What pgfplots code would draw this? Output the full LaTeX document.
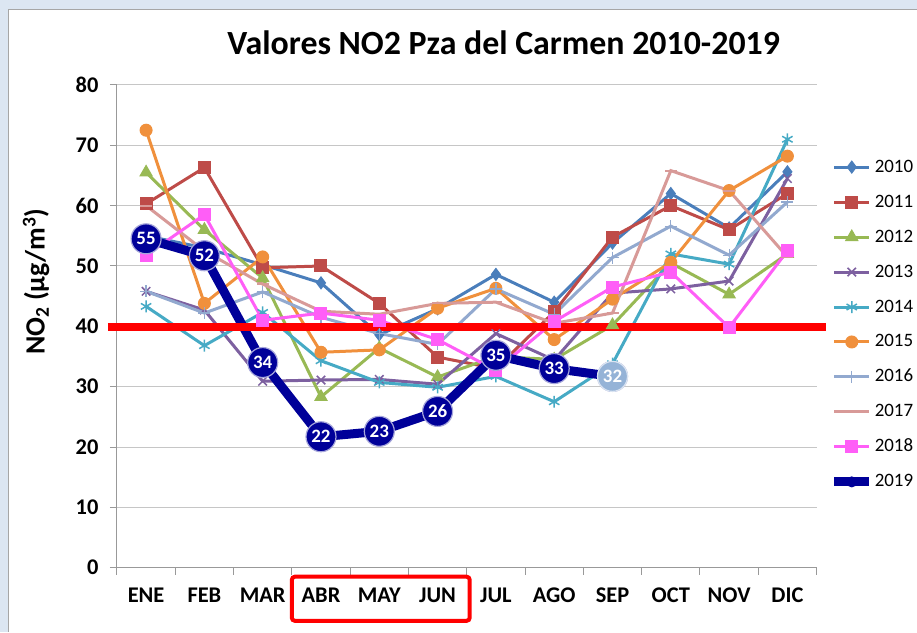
\documentclass[border=0pt]{standalone}
\usepackage{pgfplots}
\pgfplotsset{compat=1.18}
\usepackage{fontspec}
\setmainfont{Carlito}
\definecolor{bgblue}{HTML}{DCE6F2}
\definecolor{c2010}{HTML}{4A7EBB}
\definecolor{c2011}{HTML}{BE4B48}
\definecolor{c2012}{HTML}{98B954}
\definecolor{c2013}{HTML}{7D60A0}
\definecolor{c2014}{HTML}{46AAC5}
\definecolor{c2015}{HTML}{F0903C}
\definecolor{c2016}{HTML}{92A9CF}
\definecolor{c2017}{HTML}{D89A98}
\definecolor{c2018}{HTML}{FF5EF7}
\definecolor{c2019}{HTML}{000099}
\definecolor{c2019b}{HTML}{95B3D7}
\begin{document}
\begin{tikzpicture}
\fill[bgblue] (0bp,0bp) rectangle (917bp,632bp);
\fill[white] (9bp,0bp) rectangle (917bp,622bp);
\draw[gray!70, line width=1bp] (9bp,0bp) -- (9bp,622bp) -- (917bp,622bp);
\node[font=\bfseries\fontsize{34}{34}\selectfont, anchor=base] at (504bp,577bp) {Valores NO2 Pza del Carmen 2010-2019};
\node[rotate=90, font=\bfseries\fontsize{28}{28}\selectfont] at (36bp,350bp) {NO\textsubscript{2} (µg/m\textsuperscript{3})};
\begin{axis}[
  at={(117bp,64bp)}, anchor=south west, scale only axis,
  width=700bp, height=483bp,
  xmin=-0.5, xmax=11.5, ymin=0, ymax=80,
  axis x line*=bottom, axis y line*=left,
  axis line style={gray!80, line width=1bp},
  xtick={0,...,11},
  xticklabels={ENE,FEB,MAR,ABR,MAY,JUN,JUL,AGO,SEP,OCT,NOV,DIC},
  major x tick style={draw=none},
  minor xtick={-0.5,0.5,...,11.5},
  ytick={0,10,...,80},
  tick align=outside, major tick length=7bp, minor tick length=7bp,
  tick style={gray!80, line width=1bp},
  ymajorgrids, grid style={gray!45, line width=1bp},
  xticklabel style={font=\bfseries\fontsize{22.5}{22.5}\selectfont, yshift=-10bp},
  yticklabel style={font=\bfseries\fontsize{22.5}{22.5}\selectfont, xshift=-8bp},
  /pgf/number format/assume math mode=true,
  clip=false,
  legend style={draw=none, fill=none, at={(1.0186,0.851)}, anchor=north west,
    font=\fontsize{19}{19}\selectfont, row sep=15bp, inner sep=0pt,
    nodes={inner sep=1bp, text height=14bp, text depth=4bp}},
  legend cell align=left,
  legend image code/.code={\draw[mark repeat=2,mark phase=2,#1] plot coordinates {(0bp,0bp)(17.5bp,0bp)(35bp,0bp)};},
  every axis plot/.append style={line width=3bp},
]
\addplot[c2010, mark=diamond*, mark size=6bp, mark options={solid, line width=1bp}] coordinates {(0,55)(1,53)(2,50.2)(3,47.2)(4,38.6)(5,42.9)(6,48.6)(7,44)(8,53.8)(9,62)(10,56.3)(11,65.6)};
\addlegendentry{2010}
\addplot[c2011, mark=square*, mark size=6bp, mark options={solid, line width=1bp}] coordinates {(0,60.3)(1,66.3)(2,49.7)(3,50)(4,43.8)(5,34.9)(6,33)(7,42.4)(8,54.8)(9,60)(10,56)(11,62)};
\addlegendentry{2011}
\addplot[c2012, mark=triangle*, mark size=7bp, mark options={solid, line width=1bp}] coordinates {(0,65.5)(1,56)(2,48)(3,28.3)(4,36.4)(5,31.6)(6,35)(7,34.5)(8,40.2)(9,50.5)(10,45.3)(11,52)};
\addlegendentry{2012}
\addplot[c2013, mark=x, mark size=6bp, mark options={solid, line width=1.5bp}] coordinates {(0,45.8)(1,42.7)(2,30.9)(3,31.1)(4,31.2)(5,30.4)(6,38.8)(7,34.4)(8,45.5)(9,46.2)(10,47.5)(11,64.5)};
\addlegendentry{2013}
\addplot[c2014, mark=asterisk, mark size=6bp, mark options={solid, line width=1.5bp}] coordinates {(0,43.3)(1,36.8)(2,42.3)(3,34.3)(4,30.7)(5,29.9)(6,31.7)(7,27.5)(8,33.8)(9,52)(10,50.3)(11,71)};
\addlegendentry{2014}
\addplot[c2015, mark=*, mark size=6bp, mark options={solid, line width=1bp}] coordinates {(0,72.5)(1,43.8)(2,51.5)(3,35.7)(4,36.1)(5,43)(6,46.3)(7,37.8)(8,44.5)(9,50.6)(10,62.5)(11,68.2)};
\addlegendentry{2015}
\addplot[c2016, mark=+, mark size=6bp, mark options={solid, line width=1.2bp}] coordinates {(0,45.8)(1,42.2)(2,45.7)(3,41.5)(4,38.8)(5,37)(6,46.2)(7,42)(8,51.4)(9,56.6)(10,51.8)(11,60.6)};
\addlegendentry{2016}
\addplot[c2017, mark=-, mark size=6bp, mark options={solid, line width=2bp}] coordinates {(0,60)(1,52.5)(2,47)(3,42.5)(4,42)(5,43.8)(6,44)(7,40.5)(8,42.2)(9,65.8)(10,62.5)(11,51.5)};
\addlegendentry{2017}
\addplot[c2018, mark=square*, mark size=6bp, mark options={solid, line width=1bp}] coordinates {(0,51.8)(1,58.5)(2,41)(3,42.2)(4,41)(5,37.8)(6,32.7)(7,40.8)(8,46.5)(9,49)(10,39.8)(11,52.5)};
\addlegendentry{2018}
\addplot[c2019, line width=9bp, mark=*, mark size=5bp, mark options={solid, line width=1bp, fill=c2019},
  nodes near coords, point meta=explicit symbolic,
  every node near coord/.append style={anchor=center, circle, fill=c2019, draw=white!65!c2019, line width=1.2bp, text=white, font=\bfseries\fontsize{19}{19}\selectfont, inner sep=0pt, minimum size=30bp}]
  table[meta=label] {
x y label
0 54.5 55
1 51.7 52
2 34 34
3 21.7 22
4 22.6 23
5 25.9 26
6 35.2 35
7 33 33
8 31.7 32
};
\addlegendentry{2019}
\addplot[forget plot, only marks, mark=none, point meta=explicit symbolic, nodes near coords,
  every node near coord/.append style={anchor=center, circle, fill=c2019b, draw=white!65!c2019b, line width=1.2bp, text=white, font=\bfseries\fontsize{19}{19}\selectfont, inner sep=0pt, minimum size=30bp}]
  table[meta=label] {
x y label
8 31.7 32
};
\addplot[forget plot, red, line width=8bp, mark=none] coordinates {(-0.654,39.9)(11.655,39.9)};
\draw[red, line width=4bp, rounded corners=3bp] (axis cs:2.5,-1.5) rectangle (axis cs:5.55,-8.8);
\end{axis}
\end{tikzpicture}
\end{document}
